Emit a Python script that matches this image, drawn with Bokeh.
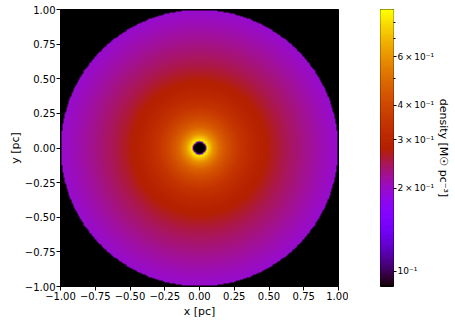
import numpy as np
from bokeh.plotting import figure
from bokeh.layouts import row
from bokeh.models import LogColorMapper, FixedTicker
from bokeh.embed import file_html
from bokeh.resources import INLINE

# radial density profile
radius = [0.040, 0.046, 0.051, 0.06, 0.08, 0.10, 0.15, 0.20, 0.30, 0.40, 0.50, 0.60, 0.70, 0.80, 0.90, 1.00]
density = [0.10, 0.15, 0.88, 0.82, 0.69, 0.60, 0.48, 0.42, 0.34, 0.30, 0.275, 0.252, 0.236, 0.222, 0.209, 0.198]
hole_radius = 0.040
outer_radius = 1.0
cbar_low, cbar_high = 0.088, 0.89
xy_ticks = [-1.0, -0.75, -0.5, -0.25, 0.0, 0.25, 0.5, 0.75, 1.0]
cbar_major = [0.1, 0.2, 0.3, 0.4, 0.6]
cbar_minor = [0.5, 0.7, 0.8]
cbar_labels = {0.1: "10⁻¹", 0.2: "2\u2009×\u200910⁻¹", 0.3: "3\u2009×\u200910⁻¹",
               0.4: "4\u2009×\u200910⁻¹", 0.6: "6\u2009×\u200910⁻¹"}

# gnuplot colormap
xs = np.linspace(0, 1, 256)
def hexc(r, g, b):
    return "#%02x%02x%02x" % (int(round(r * 255)), int(round(g * 255)), int(round(b * 255)))
palette = [hexc(np.sqrt(x), x ** 3, max(0.0, np.sin(2 * np.pi * x))) for x in xs]

N = 500
g = np.linspace(-1, 1, N)
X, Y = np.meshgrid(g, g)
R = np.sqrt(X ** 2 + Y ** 2)
img = np.exp(np.interp(R, radius, np.log(density)))
img[(R > outer_radius) | (R < hole_radius)] = np.nan

mapper = LogColorMapper(palette=palette, low=cbar_low, high=cbar_high, nan_color="black")

FONT = "DejaVu Sans"

p = figure(frame_width=278, frame_height=277, x_range=(-1, 1), y_range=(-1, 1),
           output_backend="svg", toolbar_location=None,
           min_border_left=60, min_border_right=10, min_border_top=9, min_border_bottom=26)
p.image(image=[img], x=-1, y=-1, dw=2, dh=2, color_mapper=mapper)
p.background_fill_color = "black"
p.grid.visible = False
p.outline_line_color = "black"
for ax, lab in ((p.xaxis[0], "x [pc]"), (p.yaxis[0], "y [pc]")):
    ax.ticker = FixedTicker(ticks=xy_ticks)
    ax.major_label_overrides = {t: ("%.2f" % t).replace("-", "−") for t in xy_ticks}
    ax.minor_tick_line_color = None
    ax.major_tick_in = 0
    ax.major_tick_out = 4
    ax.major_label_standoff = 1
    ax.axis_label = lab
    ax.axis_label_standoff = 0
    ax.axis_label_text_font_style = "normal"
    ax.axis_label_text_font = FONT
    ax.axis_label_text_font_size = "11px"
    ax.axis_label_text_color = "black"
    ax.major_label_text_font = FONT
    ax.major_label_text_font_size = "10px"
    ax.axis_line_color = "black"
    ax.major_tick_line_color = "black"
    ax.major_label_text_color = "black"
p.xaxis[0].axis_label_standoff = 2

# colorbar as its own figure
edges = np.logspace(np.log10(cbar_low), np.log10(cbar_high), len(palette) + 1)
c = figure(frame_width=13, frame_height=277, x_range=(0, 1), y_range=(cbar_low, cbar_high),
           y_axis_type="log", y_axis_location="right",
           output_backend="svg", toolbar_location=None,
           min_border_left=32, min_border_right=4, min_border_top=9, min_border_bottom=26)
c.quad(left=np.zeros(len(palette)), right=np.ones(len(palette)),
       bottom=edges[:-1], top=edges[1:], fill_color=palette, line_color=palette)
c.xaxis.visible = False
c.grid.visible = False
c.outline_line_color = "black"
ya = c.yaxis[0]
ya.ticker = FixedTicker(ticks=cbar_major, minor_ticks=cbar_minor)
ya.major_label_overrides = cbar_labels
ya.major_tick_in = 0
ya.major_tick_out = 3
ya.minor_tick_in = 0
ya.minor_tick_out = 2
ya.major_tick_line_color = "black"
ya.minor_tick_line_color = "black"
ya.major_label_standoff = 1
ya.axis_line_color = None
ya.major_label_text_font = FONT
ya.major_label_text_font_size = "9px"
ya.major_label_text_color = "black"
ya.axis_label = "density [M☉ pc⁻³]"
ya.axis_label_text_font = FONT
ya.axis_label_text_font_size = "11px"
ya.axis_label_text_font_style = "normal"
ya.axis_label_text_color = "black"
ya.axis_label_standoff = 0

layout = row(p, c)
open("out.html", "w").write(file_html(layout, INLINE))
